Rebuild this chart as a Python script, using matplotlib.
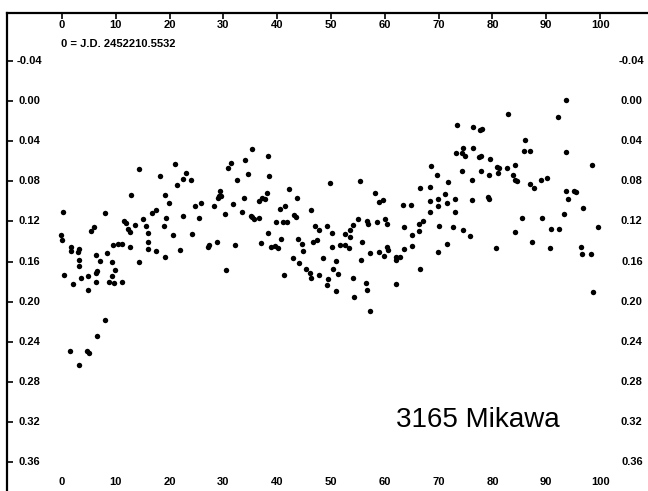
import matplotlib
matplotlib.use("Agg")
import matplotlib.pyplot as plt

# days since J.D. 2452210.5532 and relative magnitude
days = [
    -0.2, 0.0, 0.1, 0.4, 1.5, 1.6, 1.7, 2.0, 2.9, 3.1,
    3.2, 3.2, 3.2, 3.6, 4.6, 4.8, 4.8, 5.1, 5.4, 6.0,
    6.3, 6.4, 6.4, 6.5, 6.5, 7.0, 8.0, 8.0, 8.4, 8.7,
    9.2, 9.3, 9.5, 9.6, 9.9, 10.4, 11.2, 11.2, 11.5, 11.9,
    12.3, 12.6, 12.6, 12.8, 13.6, 14.3, 14.4, 15.1, 15.7, 16.0,
    16.0, 16.0, 16.7, 17.5, 17.5, 18.3, 18.9, 19.1, 19.2, 19.4,
    19.8, 20.6, 21.0, 21.4, 22.0, 22.4, 22.5, 23.1, 24.0, 24.1,
    24.7, 25.5, 25.8, 27.1, 27.4, 28.3, 28.8, 28.9, 29.2, 29.3,
    29.6, 30.3, 30.5, 30.9, 31.4, 31.8, 32.2, 32.5, 33.5, 33.8,
    34.1, 34.6, 35.1, 35.3, 35.4, 35.7, 36.7, 36.7, 36.9, 37.2,
    37.8, 38.1, 38.3, 38.3, 38.5, 38.8, 39.6, 39.8, 40.1, 40.5,
    40.7, 41.0, 41.3, 41.4, 41.8, 42.1, 42.9, 43.1, 43.4, 43.7,
    43.8, 44.1, 44.6, 44.7, 45.3, 46.1, 46.2, 46.2, 46.7, 47.0,
    47.3, 47.8, 47.8, 48.5, 49.3, 49.3, 49.5, 49.8, 50.1, 50.2,
    50.4, 50.9, 51.0, 51.3, 51.7, 52.5, 52.6, 53.3, 53.5, 53.6,
    54.1, 54.1, 54.2, 55.0, 55.3, 55.6, 55.7, 56.5, 56.7, 56.7,
    56.9, 57.2, 57.3, 58.1, 58.5, 58.9, 58.9, 59.7, 59.9, 60.0,
    60.4, 60.4, 60.5, 62.0, 62.1, 62.1, 62.8, 63.3, 63.6, 63.6,
    64.8, 65.1, 65.1, 66.3, 66.4, 66.6, 66.6, 67.0,
    68.3, 68.4, 68.4, 68.6, 69.6, 69.9, 69.9, 69.9, 70.0, 71.1,
    71.5, 71.5, 71.8, 72.7, 73.0, 73.1, 73.2, 73.4, 74.3, 74.3,
    74.5, 74.6, 74.8, 75.9, 76.2, 76.2, 76.3, 76.4, 77.5, 77.6,
    77.8, 77.8, 78.0, 79.1, 79.4, 79.4, 79.6, 80.7, 80.8, 81.0,
    81.2, 82.7, 82.9, 83.8, 84.1, 84.1, 84.2, 84.5, 85.5, 85.8,
    86.1, 86.9, 87.0, 87.4, 87.7, 89.0, 89.2, 90.1, 90.6, 90.8,
    92.1, 92.4, 93.3, 93.6, 93.6, 93.6, 94.1, 95.1, 95.5, 96.5,
    96.7, 96.8, 98.4, 98.5, 98.7, 99.7,
]
mag = [
    0.133, 0.138, 0.111, 0.173, 0.249, 0.145, 0.149, 0.182, 0.150, 0.158,
    0.147, 0.164, 0.263, 0.176, 0.249, 0.174, 0.188, 0.251, 0.129, 0.126,
    0.171, 0.153, 0.180, 0.234, 0.169, 0.159, 0.112, 0.218, 0.151, 0.180,
    0.160, 0.174, 0.143, 0.181, 0.168, 0.142, 0.142, 0.180, 0.120, 0.122,
    0.127, 0.145, 0.130, 0.094, 0.124, 0.160, 0.068, 0.118, 0.125, 0.131,
    0.140, 0.147, 0.112, 0.109, 0.149, 0.075, 0.125, 0.155, 0.094, 0.117,
    0.102, 0.133, 0.063, 0.084, 0.148, 0.115, 0.078, 0.072, 0.079, 0.132,
    0.105, 0.117, 0.102, 0.145, 0.143, 0.105, 0.140, 0.097, 0.095, 0.090,
    0.095, 0.113, 0.168, 0.067, 0.062, 0.103, 0.143, 0.079, 0.111, 0.097,
    0.059, 0.073, 0.115, 0.116, 0.048, 0.118, 0.100, 0.117, 0.141, 0.097,
    0.098, 0.092, 0.131, 0.055, 0.075, 0.145, 0.144, 0.121, 0.146, 0.108,
    0.137, 0.121, 0.173, 0.105, 0.121, 0.088, 0.156, 0.114, 0.116, 0.097,
    0.137, 0.161, 0.142, 0.149, 0.167, 0.171, 0.109, 0.176, 0.140, 0.125,
    0.138, 0.128, 0.173, 0.156, 0.125, 0.183, 0.177, 0.082, 0.145, 0.131,
    0.167, 0.159, 0.189, 0.172, 0.143, 0.132, 0.143, 0.146, 0.128, 0.135,
    0.124, 0.176, 0.195, 0.118, 0.080, 0.158, 0.140, 0.181, 0.120, 0.188,
    0.123, 0.151, 0.209, 0.092, 0.121, 0.101, 0.150, 0.099, 0.154, 0.118,
    0.123, 0.145, 0.148, 0.155, 0.158, 0.182, 0.155, 0.104, 0.147, 0.126,
    0.104, 0.133, 0.144, 0.123, 0.129, 0.087, 0.167, 0.120,
    0.111, 0.086, 0.100, 0.065, 0.074, 0.098, 0.105, 0.150, 0.125, 0.093,
    0.102, 0.142, 0.081, 0.126, 0.098, 0.111, 0.052, 0.024, 0.052, 0.070,
    0.047, 0.128, 0.055, 0.134, 0.099, 0.079, 0.047, 0.026, 0.056, 0.029,
    0.055, 0.070, 0.028, 0.096, 0.074, 0.098, 0.058, 0.146, 0.066, 0.072,
    0.067, 0.067, 0.013, 0.074, 0.130, 0.079, 0.064, 0.080, 0.117, 0.050,
    0.039, 0.050, 0.083, 0.140, 0.087, 0.079, 0.117, 0.077, 0.146, 0.127,
    0.016, 0.127, 0.113, 0.090, -0.001, 0.051, 0.098, 0.090, 0.091, 0.145,
    0.152, 0.107, 0.152, 0.064, 0.190, 0.126,
]

x_ticks = [0, 10, 20, 30, 40, 50, 60, 70, 80, 90, 100]
y_ticks = [-0.04, 0.00, 0.04, 0.08, 0.12, 0.16, 0.20, 0.24, 0.28, 0.32, 0.36]
y_labels = ["-0.04", "0.00", "0.04", "0.08", "0.12", "0.16",
            "0.20", "0.24", "0.28", "0.32", "0.36"]

plt.rcParams["font.family"] = ["Liberation Sans", "DejaVu Sans"]

fig = plt.figure(figsize=(6.48, 4.91), dpi=100)
ax = fig.add_axes([7 / 648, 0, 641 / 648, 478 / 491])

ax.plot(days, mag, "o", color="black", ms=3.9, mew=0)

ax.set_xlim(-10.22, 108.9)
ax.set_ylim(0.3884, -0.0876)

# only the top and left frame lines are drawn
ax.spines["right"].set_visible(False)
ax.spines["bottom"].set_visible(False)
ax.spines["top"].set_linewidth(1.6)
ax.spines["left"].set_linewidth(1.6)

ax.xaxis.set_ticks_position("top")
ax.yaxis.set_ticks_position("left")
ax.set_xticks(x_ticks)
ax.set_xticklabels([])
ax.set_yticks(y_ticks)
ax.set_yticklabels([])
ax.tick_params(direction="in", length=4, width=1.2)

# tick labels sit inside the frame, repeated on all four sides
lab = dict(fontsize=8, fontweight="bold", ha="center", va="center")
for t in x_ticks:
    ax.text(t, -0.0752, str(t), **lab)
    ax.text(t, 0.3795, str(t), **lab)
for v, s in zip(y_ticks, y_labels):
    ax.text(-6.1, v, s, **lab)
    ax.text(105.9, v, s, **lab)

ax.text(-0.1, -0.0568, "0 = J.D. 2452210.5532", fontsize=8, fontweight="bold",
        ha="left", va="center")
ax.text(77.3, 0.3247, "3165 Mikawa", fontsize=20, ha="center", va="baseline")

fig.savefig("out.png", dpi=100)
